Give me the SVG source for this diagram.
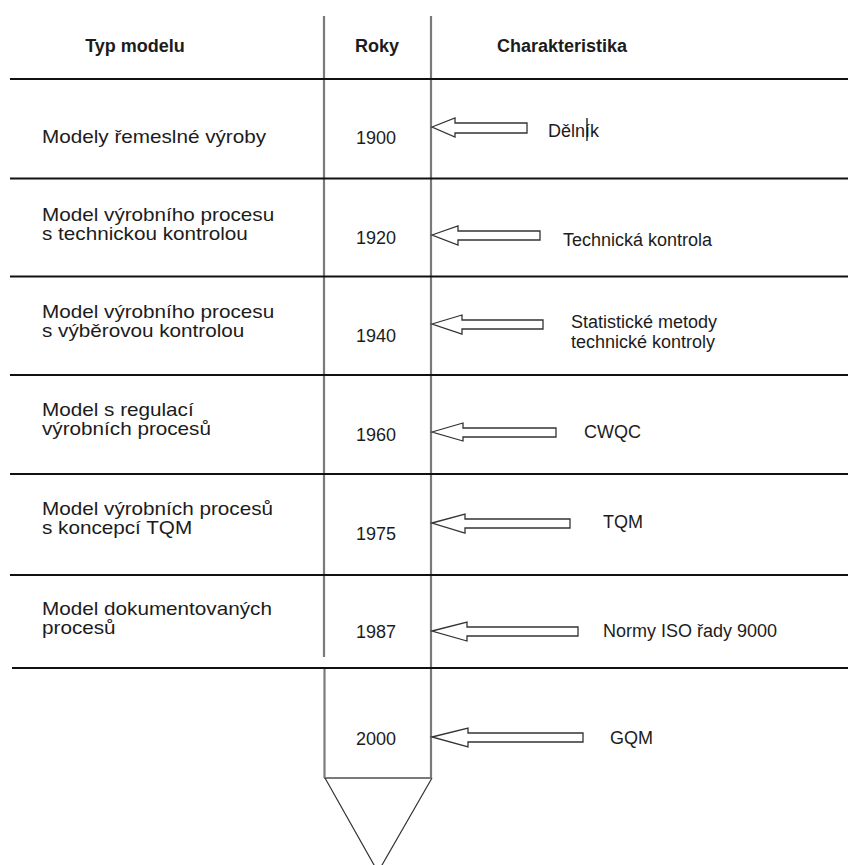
<svg xmlns="http://www.w3.org/2000/svg" width="848" height="865" viewBox="0 0 848 865">
  <style>
    text { font-family: "Liberation Sans", Arial, sans-serif; font-size: 18px; fill: #1c1c1c; }
    .hd { font-weight: bold; }
    .yr { text-anchor: middle; }
    .rule { stroke: #111; stroke-width: 2; }
    .axis { stroke: #7a7a7a; stroke-width: 2.2; fill: none; }
    .tip { stroke: #333; stroke-width: 1.2; fill: none; }
    .arrow { fill: #fff; stroke: #333; stroke-width: 1.3; stroke-linejoin: miter; }
  </style>

  <rect width="848" height="865" fill="#fff"/>

  <!-- timeline column -->
  <g id="axis">
    <line class="axis" x1="324" y1="16" x2="324" y2="657"/>
    <line class="axis" x1="324.5" y1="667" x2="324.5" y2="778"/>
    <line class="axis" x1="431" y1="16" x2="431" y2="778"/>
    <line class="axis" x1="324" y1="778" x2="431" y2="778"/>
    <polyline class="tip" points="325,778 378,872 432,778"/>
  </g>

  <!-- row separators -->
  <g id="rules">
    <line class="rule" x1="10" y1="79" x2="848" y2="79"/>
    <line class="rule" x1="10" y1="178.5" x2="848" y2="178.5"/>
    <line class="rule" x1="10" y1="276.5" x2="848" y2="276.5"/>
    <line class="rule" x1="10" y1="375" x2="848" y2="375"/>
    <line class="rule" x1="10" y1="474" x2="848" y2="474"/>
    <line class="rule" x1="10" y1="575" x2="848" y2="575"/>
    <line class="rule" x1="12" y1="668" x2="848" y2="668"/>
  </g>

  <g id="header">
    <text class="hd" x="135" y="52" text-anchor="middle">Typ modelu</text>
    <text class="hd yr" x="377" y="52">Roky</text>
    <text class="hd" x="497" y="52">Charakteristika</text>
  </g>

  <!-- model names are set slightly wide -->
  <g id="row-1900">
    <text transform="translate(42,143) scale(1.15,1)">Modely řemeslné výroby</text>
    <text class="yr" x="376" y="144">1900</text>
    <text x="548" y="137">Dělník</text>
    <line x1="587" y1="118" x2="587" y2="141" stroke="#111" stroke-width="1.3"/>
  </g>

  <g id="row-1920">
    <text transform="translate(42,221) scale(1.15,1)">Model  výrobního  procesu</text>
    <text transform="translate(42,240) scale(1.15,1)">s technickou kontrolou</text>
    <text class="yr" x="376" y="244">1920</text>
    <text x="563" y="246">Technická kontrola</text>
  </g>

  <g id="row-1940">
    <text transform="translate(42,318) scale(1.15,1)">Model  výrobního  procesu</text>
    <text transform="translate(42,337) scale(1.15,1)">s výběrovou kontrolou</text>
    <text class="yr" x="376" y="342">1940</text>
    <text x="571" y="328">Statistické metody</text>
    <text x="571" y="348">technické kontroly</text>
  </g>

  <g id="row-1960">
    <text transform="translate(42,416) scale(1.15,1)">Model s regulací</text>
    <text transform="translate(42,435) scale(1.15,1)">výrobních procesů</text>
    <text class="yr" x="376" y="441">1960</text>
    <text x="584" y="438">CWQC</text>
  </g>

  <g id="row-1975">
    <text transform="translate(42,515) scale(1.15,1)">Model výrobních procesů</text>
    <text transform="translate(42,534) scale(1.15,1)">s koncepcí TQM</text>
    <text class="yr" x="376" y="540">1975</text>
    <text x="603" y="528">TQM</text>
  </g>

  <g id="row-1987">
    <text transform="translate(42,615) scale(1.15,1)">Model dokumentovaných</text>
    <text transform="translate(42,634) scale(1.15,1)">procesů</text>
    <text class="yr" x="376" y="638">1987</text>
    <text x="603" y="637">Normy ISO řady 9000</text>
  </g>

  <g id="row-2000">
    <text class="yr" x="376" y="745">2000</text>
    <text x="610" y="744">GQM</text>
  </g>

  <!-- hollow arrows pointing at the timeline -->
  <g id="connectors">
    <path class="arrow" d="M432,127 L455,118 L455,123 L527,123 L527,133 L455,133 L455,137 Z"/>
    <path class="arrow" d="M432,235 L458,226 L458,231 L540,231 L540,240 L458,240 L458,245 Z"/>
    <path class="arrow" d="M432,324 L462,315 L462,320 L543,320 L543,329 L462,329 L462,334 Z"/>
    <path class="arrow" d="M432,432 L463,423 L463,428 L556,428 L556,437 L463,437 L463,441 Z"/>
    <path class="arrow" d="M432,523 L465,514 L465,519 L570,519 L570,528 L465,528 L465,533 Z"/>
    <path class="arrow" d="M432,631 L467,622 L467,627 L578,627 L578,636 L467,636 L467,641 Z"/>
    <path class="arrow" d="M432,737 L468,728 L468,733 L583,733 L583,742 L468,742 L468,747 Z"/>
  </g>
</svg>
